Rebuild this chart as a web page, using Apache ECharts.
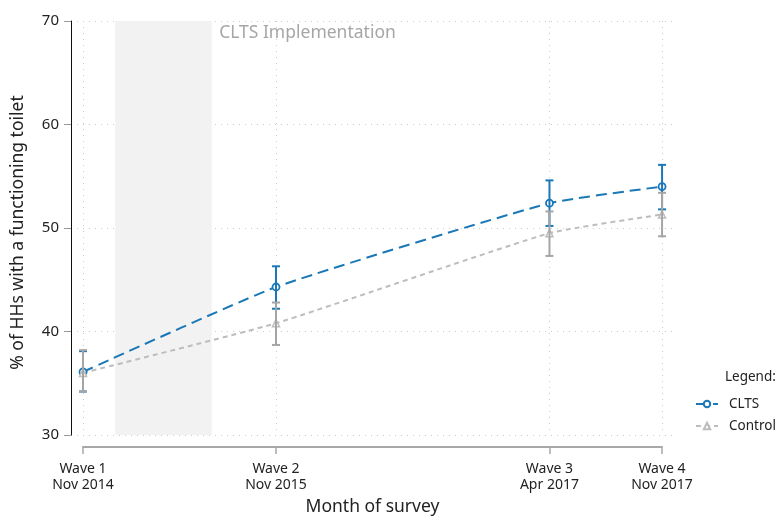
<!DOCTYPE html>
<html>
<head>
<meta charset="utf-8">
<script src="https://cdn.jsdelivr.net/npm/echarts@6/dist/echarts.min.js"></script>
<style>
  html, body { margin: 0; padding: 0; background: #fff; }
  #main { width: 781px; height: 516px; }
</style>
</head>
<body>
<div id="main"></div>
<script>
// survey waves
var waveNames = ['Wave 1', 'Wave 2', 'Wave 3', 'Wave 4'];
var waveDates = ['Nov 2014', 'Nov 2015', 'Apr 2017', 'Nov 2017'];
var waveMonths = [0, 12, 29, 36]; // months since Nov 2014

// % of HHs with a functioning toilet
var cltsMean = [36.1, 44.3, 52.4, 54.0];
var cltsLow  = [34.2, 42.2, 50.2, 51.8];
var cltsHigh = [38.1, 46.3, 54.6, 56.1];
var ctrlMean = [36.0, 40.8, 49.5, 51.3];
var ctrlLow  = [34.2, 38.7, 47.3, 49.2];
var ctrlHigh = [38.2, 42.8, 51.6, 53.4];

// CLTS implementation period (months since Nov 2014)
var implPeriod = [2, 8];

var FONT = 'Noto Sans';
var BLUE = '#1a78b6';
var GRAY = '#bdbdbd';
var GRAY_DARK = '#a5a5a5';
var GRID = { color: '#cccccc', type: [1, 5], width: 1 };

function pts(means){
  return waveMonths.map(function(m, i){ return [m, means[i]]; });
}
function bars(low, high){
  return waveMonths.map(function(m, i){ return [m, low[i], high[i]]; });
}
function errBar(color){
  return function(params, api){
    var x = api.value(0);
    var lo = api.coord([x, api.value(1)]);
    var hi = api.coord([x, api.value(2)]);
    var w = 4;
    var st = { stroke: color, lineWidth: 2 };
    return { type: 'group', children: [
      { type: 'line', shape: { x1: lo[0], y1: lo[1], x2: hi[0], y2: hi[1] }, style: st },
      { type: 'line', shape: { x1: lo[0]-w, y1: lo[1], x2: lo[0]+w, y2: lo[1] }, style: st },
      { type: 'line', shape: { x1: hi[0]-w, y1: hi[1], x2: hi[0]+w, y2: hi[1] }, style: st }
    ]};
  };
}

var chart = echarts.init(document.getElementById('main'));
var option = {
  animation: false,
  textStyle: { fontFamily: FONT },
  title: {
    text: 'Legend:', left: 725, top: 370, padding: 0,
    textStyle: { fontFamily: FONT, fontSize: 13.5, fontWeight: 'normal', color: '#222' }
  },
  legend: {
    data: ['CLTS', 'Control'],
    orient: 'vertical', left: 690, top: 392,
    itemWidth: 22, itemHeight: 8, itemGap: 8,
    textStyle: { fontFamily: FONT, fontSize: 13.5, color: '#222', padding: [0, 0, 0, 6] }
  },
  grid: [
    { left: 71, right: 108, top: 21, bottom: 81, outerBoundsMode: 'none' },
    { left: 83, right: 119, top: 21, bottom: 81, outerBoundsMode: 'none' }
  ],
  xAxis: [
    {
      type: 'value', gridIndex: 0, min: -0.746, max: 36.68,
      axisLine: { show: false }, axisTick: { show: false },
      axisLabel: { show: false }, splitLine: { show: false }
    },
    {
      type: 'value', gridIndex: 1, min: 0, max: 36, offset: 12,
      name: 'Month of survey', nameLocation: 'middle', nameGap: 51,
      nameTextStyle: { fontFamily: FONT, fontSize: 17.5, color: '#222' },
      axisLine: { show: true, lineStyle: { color: '#a8a8a8', width: 2 } },
      axisTick: { show: true, customValues: waveMonths, length: 7, lineStyle: { color: '#a8a8a8', width: 1.5 } },
      axisLabel: {
        customValues: waveMonths, margin: 14,
        fontFamily: FONT, fontSize: 14, color: '#222', lineHeight: 16,
        formatter: function(v){
          var i = waveMonths.indexOf(v);
          return i < 0 ? '' : waveNames[i] + '\n' + waveDates[i];
        }
      },
      splitLine: { show: true, lineStyle: GRID }
    }
  ],
  yAxis: [
    {
      type: 'value', gridIndex: 0, min: 30, max: 70, interval: 10,
      name: '% of HHs with a functioning toilet', nameLocation: 'middle', nameGap: 44,
      nameTextStyle: { fontFamily: FONT, fontSize: 17.5, color: '#222', padding: [0, 9, 0, 0] },
      axisLine: { show: true, onZero: false, lineStyle: { color: '#111', width: 1 } },
      axisTick: { show: true, length: 7, lineStyle: { color: '#999' } },
      axisLabel: { fontFamily: FONT, fontSize: 15, color: '#222', margin: 12 },
      splitLine: { show: true, lineStyle: GRID }
    },
    {
      type: 'value', gridIndex: 1, min: 30, max: 70, show: false
    }
  ],
  series: [
    {
      name: 'impl', type: 'line', xAxisIndex: 0, yAxisIndex: 0, data: [], z: 1, silent: true,
      markArea: {
        silent: true,
        itemStyle: { color: '#f2f2f2' },
        label: {
          show: true, position: [104, 3], align: 'left', verticalAlign: 'top',
          fontFamily: FONT, fontSize: 17.5, color: '#a6a6a6'
        },
        data: [[{ xAxis: implPeriod[0], name: 'CLTS Implementation' }, { xAxis: implPeriod[1] }]]
      }
    },
    {
      name: 'CLTS', type: 'line', xAxisIndex: 0, yAxisIndex: 0, z: 3,
      data: pts(cltsMean), smooth: 0.15,
      symbol: 'circle', symbolSize: 7, showSymbol: true,
      itemStyle: { color: '#fff', borderColor: BLUE, borderWidth: 1.8 },
      lineStyle: { color: BLUE, width: 2, type: [11, 6] }
    },
    {
      name: 'CLTS CI', type: 'custom', xAxisIndex: 0, yAxisIndex: 0, z: 4,
      data: bars(cltsLow, cltsHigh), renderItem: errBar(BLUE),
      encode: { x: 0, y: [1, 2] }
    },
    {
      name: 'Control CI', type: 'custom', xAxisIndex: 0, yAxisIndex: 0, z: 5,
      data: bars(ctrlLow, ctrlHigh), renderItem: errBar(GRAY_DARK),
      encode: { x: 0, y: [1, 2] }
    },
    {
      name: 'Control', type: 'line', xAxisIndex: 0, yAxisIndex: 0, z: 3,
      data: pts(ctrlMean), smooth: 0.15,
      symbol: 'triangle', symbolSize: 7, showSymbol: true,
      itemStyle: { color: '#fff', borderColor: GRAY, borderWidth: 1.5 },
      lineStyle: { color: GRAY, width: 2, type: [5, 4] }
    }
  ]
};
chart.setOption(option);
</script>
</body>
</html>
